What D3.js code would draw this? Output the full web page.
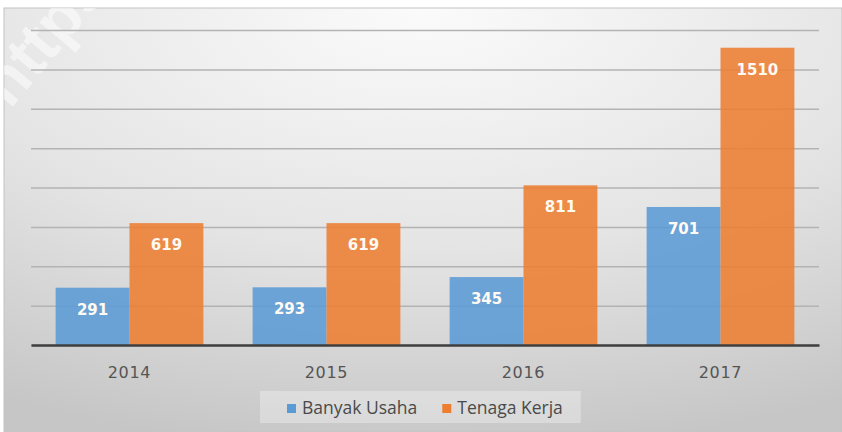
<!doctype html>
<html lang="id">
  <head>
    <meta charset="utf-8">
    <title>Banyak Usaha dan Tenaga Kerja</title>
    <script src="https://d3js.org/d3.v7.min.js"></script>
    <style>
      body { margin: 0; background: #fff; }
      svg { display: block; }
    </style>
  </head>
  <body>
    <div id="chart"></div>
    <script>

      // data
      const years = ["2014", "2015", "2016", "2017"];
      const series = ["Banyak Usaha", "Tenaga Kerja"];
      const banyakUsaha = [291, 293, 345, 701];
      const tenagaKerja = [619, 619, 811, 1510];
      const yTicks = [0, 200, 400, 600, 800, 1000, 1200, 1400, 1600];
      const colors = ["#5b9bd5", "#ed7d31"];

      const W = 842, H = 432;
      const margin = {top: 30, right: 23, bottom: 87, left: 31};

      const svg = d3.select("#chart")
        .append("svg")
          .attr("width", W)
          .attr("height", H);

      // background with soft radial shading
      const defs = svg.append("defs");
      const grad = defs.append("radialGradient")
        .attr("id", "bg")
        .attr("cx", "50%").attr("cy", "0%")
        .attr("r", "105%");
      grad.append("stop").attr("offset", "0%").attr("stop-color", "#fbfbfb");
      grad.append("stop").attr("offset", "55%").attr("stop-color", "#e4e4e4");
      grad.append("stop").attr("offset", "100%").attr("stop-color", "#c6c6c6");

      defs.append("clipPath")
        .attr("id", "area")
        .append("rect")
          .attr("x", 4).attr("y", 8)
          .attr("width", W - 4).attr("height", H - 8);

      svg.append("rect")
        .attr("x", 4).attr("y", 8)
        .attr("width", W - 4).attr("height", H - 8)
        .attr("fill", "url(#bg)")
        .attr("stroke", "#c4c4c4")
        .attr("stroke-width", 1);

      // faint watermark in the corner (mostly off the edge, as in the source)
      svg.append("g")
        .attr("clip-path", "url(#area)")
        .append("text")
          .attr("transform", "translate(10,110) rotate(-50)")
          .attr("font-family", "Liberation Sans")
          .attr("font-weight", "bold")
          .attr("font-size", "64px")
          .attr("fill", "#ffffff")
          .attr("fill-opacity", 0.5)
          .text("https://");

      // scales
      const x0 = d3.scaleBand()
        .domain(years)
        .range([margin.left, W - margin.right])
        .paddingInner(0.25)
        .paddingOuter(0.125);

      const x1 = d3.scaleBand()
        .domain(series)
        .range([0, x0.bandwidth()]);

      const y = d3.scaleLinear()
        .domain([0, 1600])
        .range([H - margin.bottom, margin.top]);

      // gridlines
      svg.append("g")
        .attr("class", "grid")
        .attr("transform", `translate(${margin.left},0)`)
        .call(d3.axisLeft(y).tickValues(yTicks).tickSize(-(W - margin.left - margin.right)).tickFormat(""))
        .call(g => g.select(".domain").remove())
        .call(g => g.selectAll("line").attr("stroke", "#b3b3b3").attr("stroke-width", 1.5));

      // bars
      const rows = years.map((yr, i) => ({year: yr, values: [banyakUsaha[i], tenagaKerja[i]]}));

      const groups = svg.append("g")
        .selectAll("g")
        .data(rows)
        .join("g")
          .attr("transform", d => `translate(${x0(d.year)},0)`);

      const cells = groups.selectAll("g")
        .data(d => d.values.map((v, k) => ({key: series[k], value: v, k: k})))
        .join("g");

      cells.append("rect")
        .attr("x", d => x1(d.key))
        .attr("y", d => y(d.value))
        .attr("width", x1.bandwidth())
        .attr("height", d => y(0) - y(d.value))
        .attr("fill", d => colors[d.k])
        .attr("fill-opacity", 0.88);

      cells.append("text")
        .attr("x", d => x1(d.key) + x1.bandwidth() / 2)
        .attr("y", d => y(d.value) + 27)
        .attr("text-anchor", "middle")
        .attr("font-family", "DejaVu Sans")
        .attr("font-weight", "bold")
        .attr("font-size", "15px")
        .attr("fill", "#fffaf2")
        .text(d => d.value);

      // x axis
      const xAxis = svg.append("g")
        .attr("transform", `translate(0,${y(0)})`)
        .call(d3.axisBottom(x0).tickSize(0).tickPadding(22));
      xAxis.select(".domain")
        .attr("stroke", "#3f3f3f")
        .attr("stroke-width", 2.5);
      xAxis.selectAll("text")
        .attr("font-family", "DejaVu Sans")
        .attr("font-size", "16px")
        .attr("letter-spacing", "0.7px")
        .attr("fill", "#555555");

      // legend
      const legend = svg.append("g");
      const legendBox = legend.append("rect")
        .attr("y", 391)
        .attr("height", 32)
        .attr("fill", "#ffffff")
        .attr("fill-opacity", 0.3);

      let lx = 287;
      series.forEach((name, k) => {
        legend.append("rect")
          .attr("x", lx)
          .attr("y", 404)
          .attr("width", 9)
          .attr("height", 9)
          .attr("fill", colors[k]);
        const t = legend.append("text")
          .attr("x", lx + 15)
          .attr("y", 413.5)
          .attr("font-family", "Open Sans")
          .attr("font-size", "17.5px")
          .attr("fill", "#4a4a4a")
          .text(name);
        lx += 15 + t.node().getComputedTextLength() + 25;
      });
      legendBox.attr("x", 260).attr("width", lx - 25 - 260 + 18);

    </script>
  </body>
</html>
